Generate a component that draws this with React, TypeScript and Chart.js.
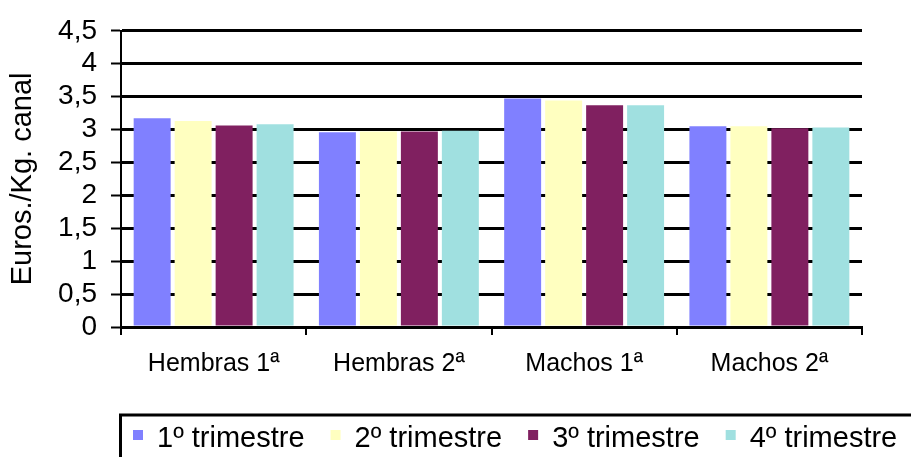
import React, { useEffect, useRef } from "react";
import { Chart, registerables } from "chart.js";

Chart.register(...registerables);

const categories = ["Hembras 1ª", "Hembras 2ª", "Machos 1ª", "Machos 2ª"];
const seriesNames = ["1º trimestre", "2º trimestre", "3º trimestre", "4º trimestre"];
const seriesColors = ["#8080FF", "#FFFFC0", "#802060", "#A0E0E0"];
const trimestre1 = [3.17, 2.96, 3.47, 3.05];
const trimestre2 = [3.13, 2.97, 3.44, 3.05];
const trimestre3 = [3.06, 2.97, 3.37, 3.02];
const trimestre4 = [3.08, 2.98, 3.37, 3.03];
const yTickLabels = ["0", "0,5", "1", "1,5", "2", "2,5", "3", "3,5", "4", "4,5"];
const yAxisTitle = "Euros./Kg. canal";

const FONT = '"Liberation Sans", Arial, sans-serif';

const boxedLegend = {
  id: "boxedLegend",
  afterDraw(chart: any) {
    const ctx = chart.ctx;
    const area = chart.chartArea;
    ctx.save();
    ctx.strokeStyle = "#000";
    ctx.lineWidth = 3;
    ctx.strokeRect(area.left - 0.5, 415, chart.width, 100);
    ctx.font = "29px " + FONT;
    ctx.textBaseline = "alphabetic";
    let x = area.left + 12;
    chart.data.datasets.forEach((ds: any) => {
      ctx.fillStyle = ds.backgroundColor;
      ctx.fillRect(x, 430, 10, 10);
      ctx.fillStyle = "#000";
      ctx.fillText(ds.label, x + 24, 447);
      x += 24 + ctx.measureText(ds.label).width + 26;
    });
    ctx.restore();
  },
};

export default function App() {
  const ref = useRef<HTMLCanvasElement | null>(null);
  useEffect(() => {
    if (!ref.current) return;
    const series = [trimestre1, trimestre2, trimestre3, trimestre4];
    const chart = new Chart(ref.current, {
      type: "bar",
      data: {
        labels: categories,
        datasets: series.map((d, i) => ({
          label: seriesNames[i],
          data: d,
          backgroundColor: seriesColors[i],
          borderWidth: 0,
          categoryPercentage: 0.885,
          barPercentage: 0.902,
        })),
      },
      options: {
        responsive: false,
        animation: false,
        devicePixelRatio: 1,
        layout: { padding: { top: 28, right: 49, bottom: 70, left: 0 } },
        plugins: {
          legend: { display: false },
          tooltip: { enabled: false },
        },
        scales: {
          x: {
            afterFit(scale: any) {
              scale.height = 60;
            },
            border: { display: true, color: "#000", width: 2 },
            grid: {
              display: true,
              offset: true,
              drawOnChartArea: false,
              drawTicks: true,
              tickLength: 8,
              color: "#000",
              lineWidth: 2,
            },
            ticks: {
              color: "#000",
              padding: 14,
              font: { family: FONT, size: 25 },
              maxRotation: 0,
            },
          },
          y: {
            min: 0,
            max: 4.5,
            afterFit(scale: any) {
              scale.width = 121;
            },
            border: { display: true, color: "#000", width: 2 },
            grid: {
              color: "#000",
              lineWidth: 3,
              drawTicks: true,
              tickLength: 10,
              tickWidth: 2,
            },
            ticks: {
              stepSize: 0.5,
              autoSkip: false,
              color: "#000",
              padding: 14,
              font: { family: FONT, size: 28 },
              callback: (v: any) => yTickLabels[Math.round(Number(v) * 2)],
            },
            title: {
              display: true,
              text: yAxisTitle,
              color: "#000",
              font: { family: FONT, size: 29 },
              padding: { top: 6, bottom: 0 },
            },
          },
        },
      },
      plugins: [boxedLegend],
    });
    return () => chart.destroy();
  }, []);
  return (
    <div style={{ position: "absolute", top: 0, left: 0, width: 911, height: 457, background: "#fff" }}>
      <canvas ref={ref} width={911} height={457} style={{ display: "block" }} />
    </div>
  );
}
